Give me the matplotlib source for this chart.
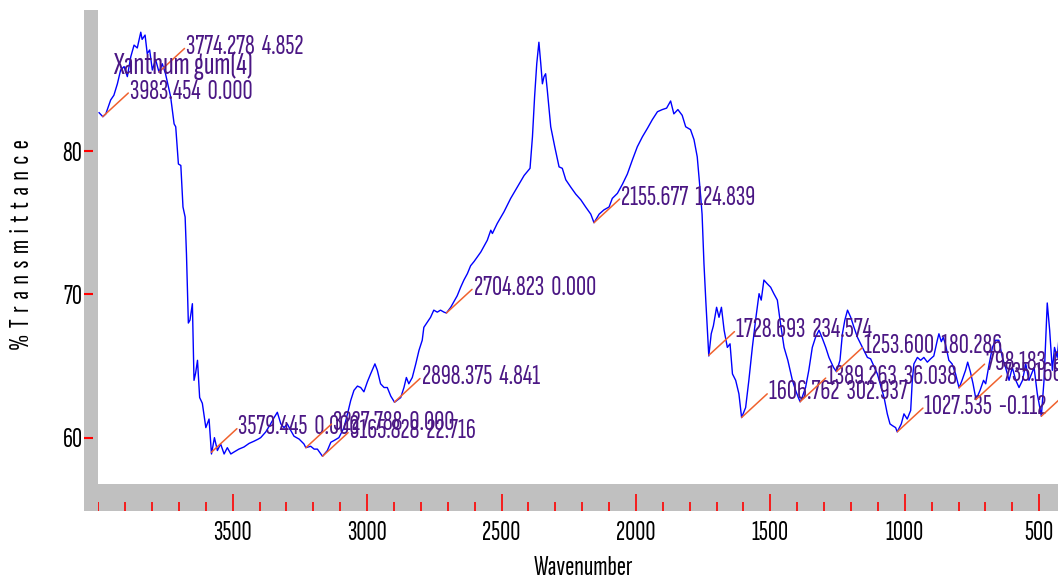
import numpy as np
import matplotlib
matplotlib.use('Agg')
import matplotlib.pyplot as plt
from matplotlib.patches import Rectangle
from matplotlib.ticker import MultipleLocator

plt.rcParams['font.family'] = ['Sofia Sans Extra Condensed', 'Pathway Gothic One',
                               'Roboto Condensed', 'DejaVu Sans']

# IR spectrum, wavenumber (cm-1) vs % transmittance
wavenumber = [3997, 3983, 3972, 3954, 3942, 3929, 3917, 3904, 3892, 3879, 3867, 3855, 3842, 3837,
              3826, 3818, 3809, 3799, 3787, 3774, 3762, 3750, 3731, 3718, 3712, 3702, 3693, 3685,
              3677, 3672, 3665, 3659, 3650, 3644, 3638, 3631, 3623, 3613, 3600, 3588, 3579, 3568,
              3557, 3545, 3532, 3520, 3507, 3495, 3477, 3458, 3439, 3421, 3405, 3396, 3377, 3359,
              3346, 3334, 3321, 3309, 3297, 3284, 3272, 3253, 3235, 3228, 3210, 3197, 3185, 3166,
              3148, 3135, 3123, 3105, 3086, 3073, 3061, 3049, 3036, 3024, 3012, 2999, 2987, 2971,
              2962, 2950, 2937, 2925, 2912, 2898, 2875, 2863, 2854, 2845, 2832, 2819, 2807, 2795,
              2789, 2764, 2752, 2739, 2727, 2714, 2705, 2689, 2677, 2665, 2652, 2640, 2627, 2615,
              2602, 2577, 2553, 2540, 2534, 2516, 2491, 2466, 2441, 2416, 2394, 2385, 2377, 2369,
              2361, 2354, 2348, 2342, 2336, 2330, 2317, 2302, 2286, 2274, 2261, 2243, 2224, 2205,
              2187, 2168, 2156, 2137, 2119, 2100, 2088, 2069, 2050, 2032, 2013, 1995, 1976, 1957,
              1939, 1920, 1902, 1886, 1871, 1859, 1844, 1828, 1815, 1797, 1784, 1772, 1759, 1754,
              1747, 1740, 1729, 1720, 1712, 1700, 1691, 1682, 1672, 1660, 1650, 1641, 1629, 1617,
              1607, 1592, 1580, 1567, 1555, 1542, 1534, 1524, 1512, 1499, 1487, 1474, 1464, 1449,
              1435, 1418, 1406, 1396, 1389, 1382, 1369, 1357, 1344, 1332, 1319, 1306, 1294, 1282,
              1265, 1254, 1241, 1232, 1223, 1213, 1201, 1189, 1176, 1164, 1152, 1139, 1127, 1102,
              1077, 1065, 1055, 1046, 1034, 1028, 1013, 1003, 991, 978, 972, 966, 953, 941,
              929, 916, 904, 892, 879, 873, 864, 857, 849, 836, 824, 811, 798, 787,
              774, 766, 756, 746, 735, 720, 707, 699, 686, 674, 662, 650, 637, 625,
              612, 600, 587, 575, 562, 550, 538, 519, 507, 492, 482, 470, 461, 451,
              443, 433, 427]
transmittance = [82.68, 82.40, 82.6, 83.57, 83.9, 84.7, 85.66, 85.9, 85.2, 86.6, 87.4, 87.2, 88.3, 87.8,
                 88.1, 86.8, 87.06, 85.66, 86.4, 85.5, 86.1, 85.4, 83.8, 81.9, 81.7, 79.1, 79.0, 76.1,
                 75.4, 72.8, 68.0, 68.2, 69.35, 64.0, 64.5, 65.4, 62.8, 62.4, 60.7, 61.3, 58.86, 60.0,
                 59.1, 59.56, 58.86, 59.3, 58.86, 59.0, 59.2, 59.35, 59.6, 59.75, 59.9, 60.0, 60.4, 60.96,
                 61.4, 61.77, 60.96, 60.7, 60.96, 60.5, 60.1, 59.9, 59.56, 59.3, 59.4, 59.2, 59.2, 58.7,
                 59.1, 59.68, 59.8, 60.0, 60.7, 61.66, 62.6, 63.3, 63.6, 63.5, 63.2, 63.9, 64.45, 65.15,
                 64.7, 63.76, 63.5, 63.5, 62.9, 62.47, 62.8, 63.5, 64.2, 63.76, 64.2, 65.15, 66.1, 66.8,
                 67.7, 68.4, 68.9, 68.76, 68.9, 68.76, 68.7, 69.1, 69.5, 69.9, 70.5, 71.0, 71.45, 72.0,
                 72.3, 72.96, 73.78, 74.48, 74.25, 74.95, 75.76, 76.7, 77.5, 78.3, 78.8, 81.0, 83.8, 86.1,
                 87.6, 86.1, 84.7, 85.2, 85.4, 84.3, 81.7, 80.3, 78.9, 78.8, 78.0, 77.5, 77.0, 76.6,
                 76.1, 75.6, 75.0, 75.6, 75.9, 76.1, 76.7, 77.05, 77.7, 78.4, 79.4, 80.3, 81.0, 81.6,
                 82.2, 82.75, 82.9, 83.0, 83.5, 82.6, 82.9, 82.5, 81.7, 81.5, 80.8, 79.6, 76.8, 75.6,
                 72.15, 69.5, 65.7, 67.25, 67.8, 69.1, 68.4, 69.1, 67.5, 66.3, 66.55, 64.45, 64.0, 63.06,
                 61.4, 62.1, 64.0, 66.3, 68.2, 70.05, 69.6, 71.0, 70.75, 70.5, 70.05, 69.6, 68.2, 66.3,
                 65.4, 64.0, 63.3, 62.8, 62.5, 62.8, 63.5, 64.7, 66.3, 67.0, 67.5, 66.9, 66.3, 65.6,
                 64.9, 64.6, 65.4, 67.25, 68.2, 68.9, 68.4, 67.7, 67.0, 66.55, 66.1, 65.6, 65.5, 64.45,
                 62.8, 61.66, 60.96, 60.84, 60.7, 60.4, 60.96, 61.66, 61.3, 61.9, 64.0, 65.15, 65.6, 65.4,
                 65.6, 65.27, 65.5, 65.7, 66.8, 67.25, 66.7, 67.0, 66.55, 65.4, 65.15, 64.45, 63.47, 64.0,
                 64.7, 65.27, 64.6, 63.76, 62.65, 63.3, 64.0, 63.76, 65.15, 66.3, 66.8, 66.8, 65.6, 64.9,
                 64.0, 64.9, 64.0, 63.5, 64.0, 65.15, 64.0, 64.9, 63.06, 61.5, 64.0, 69.4, 67.5, 64.7,
                 66.3, 65.6, 66.8]

# picked peaks: position and label text
peak_pos = [3983.454, 3774.278, 3579.445, 3227.788, 3165.828, 2898.375, 2704.823, 2155.677,
            1728.693, 1606.762, 1389.263, 1253.600, 1027.535, 798.183, 735.166, 492.0]
peak_text = ['3983.454  0.000', '3774.278  4.852', '3579.445  0.000', '3227.788  0.000',
             '3165.828  22.716', '2898.375  4.841', '2704.823  0.000', '2155.677  124.839',
             '1728.693  234.574', '1606.762  302.937', '1389.263  36.038', '1253.600  180.286',
             '1027.535  -0.112', '798.183  64.210', '735.166  88.410', '']

titulo = 'Xanthum gum(4)'
etiqueta_y = ' \u200a'.join('%Transmittance')
xmajor = [3500, 3000, 2500, 2000, 1500, 1000, 500]
ymajor = [60, 70, 80]

W, H = 1058, 582
gris = '#c0c0c0'
morado = '#4b1784'
naranja = '#f0622e'
fs = 20

def fx(px):
    return px / W

def fy(py):
    return 1 - py / H

fig = plt.figure(figsize=(W / 100, H / 100), dpi=100)

ax = fig.add_axes([fx(98.3), fy(483.5), (W - 98.3) / W, (483.5 - 10) / H])
ax_x = fig.add_axes([fx(98.3), fy(510.5), (W - 98.3) / W, 27 / H], sharex=ax)
ax_y = fig.add_axes([fx(84), fy(483.5), 14.3 / W, (483.5 - 10) / H], sharey=ax)
fig.patches.append(Rectangle((fx(84), fy(510.5)), 14.3 / W, 27 / H, transform=fig.transFigure,
                             facecolor=gris, edgecolor='none'))

ax.plot(wavenumber, transmittance, color='#0000ff', lw=1.0)
ax.set_xlim(4000, 430)
ax.set_ylim(56.8, 89.85)
for s in ax.spines.values():
    s.set_visible(False)
ax.tick_params(bottom=False, left=False, labelbottom=False, labelleft=False)

# peak markers
wn_inc = np.array(wavenumber[::-1])
tr_inc = np.array(transmittance[::-1])
for pos, txt in zip(peak_pos, peak_text):
    yv = np.interp(pos, wn_inc, tr_inc)
    ax.annotate(txt, xy=(pos, yv), xytext=(19.5, 18), textcoords='offset points',
                ha='left', va='center', fontsize=fs, color=morado, annotation_clip=False,
                arrowprops=dict(arrowstyle='-', color=naranja, lw=1.1, patchA=None,
                                shrinkA=1.5, shrinkB=0, relpos=(0, 0.5)))

fig.text(fx(113), fy(74), titulo, fontsize=22.5, color=morado, ha='left', va='baseline')

# gray frame with red ticks
for a in (ax_x, ax_y):
    a.set_facecolor(gris)
    for s in a.spines.values():
        s.set_visible(False)

ax_x.set_ylim(0, 1)
ax_x.xaxis.set_major_locator(plt.FixedLocator(xmajor))
ax_x.xaxis.set_minor_locator(MultipleLocator(100))
ax_x.tick_params(axis='x', which='major', direction='in', length=12, width=1.2, color='red',
                 labelsize=fs, pad=7.5)
ax_x.tick_params(axis='x', which='minor', direction='in', length=6.5, width=1.2, color='red')
ax_x.tick_params(axis='y', left=False, labelleft=False)

ax_y.set_yticks(ymajor)
ax_y.tick_params(axis='y', direction='in', length=6.5, width=1.5, color='red',
                 labelsize=fs, pad=1)
ax_y.tick_params(axis='x', bottom=False, labelbottom=False)

fig.text(fx(583), fy(568), 'Wavenumber', fontsize=fs, ha='center', va='center')
fig.text(fx(22), fy(245), etiqueta_y, fontsize=fs, rotation=90,
         ha='center', va='center')

fig.savefig('out.png', dpi=100)
